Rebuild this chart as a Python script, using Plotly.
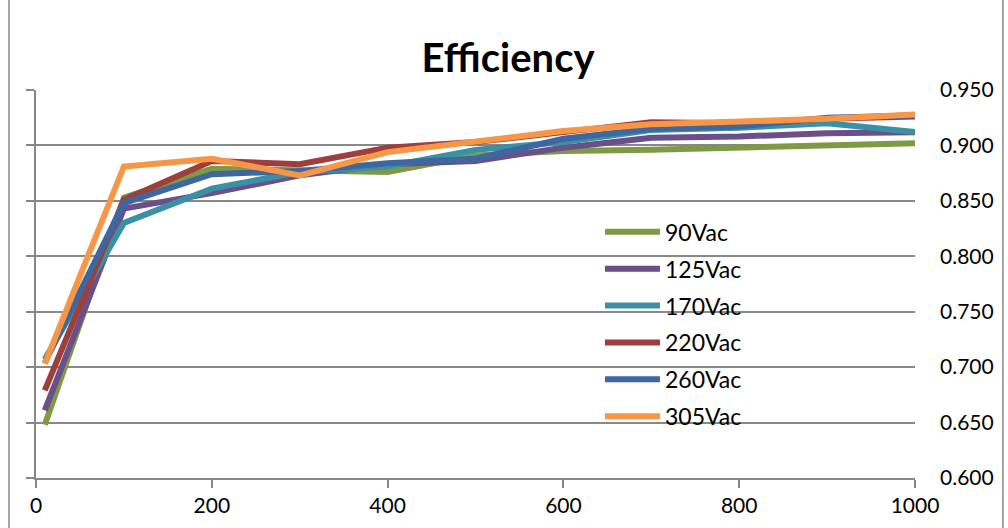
import plotly.graph_objects as go

x_load = [10, 100, 200, 300, 400, 500, 600, 700, 800, 900, 1000]
series_names = ["90Vac", "125Vac", "170Vac", "220Vac", "260Vac", "305Vac"]
eff_90 = [0.648, 0.853, 0.879, 0.877, 0.876, 0.891, 0.895, 0.896, 0.898, 0.900, 0.902]
eff_125 = [0.661, 0.843, 0.857, 0.873, 0.883, 0.886, 0.898, 0.907, 0.908, 0.911, 0.912]
eff_170 = [0.707, 0.830, 0.861, 0.876, 0.881, 0.896, 0.903, 0.914, 0.916, 0.920, 0.912]
eff_220 = [0.679, 0.851, 0.886, 0.883, 0.898, 0.903, 0.912, 0.921, 0.920, 0.924, 0.926]
eff_260 = [0.704, 0.848, 0.874, 0.877, 0.884, 0.888, 0.906, 0.915, 0.917, 0.925, 0.927]
eff_305 = [0.703, 0.881, 0.888, 0.873, 0.894, 0.904, 0.913, 0.919, 0.921, 0.924, 0.928]
series_values = [eff_90, eff_125, eff_170, eff_220, eff_260, eff_305]
colors = ["#7F9A45", "#6A4F89", "#3A91A6", "#9F3F3B", "#3D67A1", "#F79646"]
y_ticks = [0.60, 0.65, 0.70, 0.75, 0.80, 0.85, 0.90, 0.95]
x_ticks = [0, 200, 400, 600, 800, 1000]

FONT = "Lato, 'Open Sans', sans-serif"
GRID = "#888888"

fig = go.Figure()
for i, (name, vals, col) in enumerate(zip(series_names, series_values, colors)):
    fig.add_trace(go.Scatter(
        x=x_load, y=vals, name=name, mode="lines",
        line=dict(color=col, width=6),
        legendgroup=f"g{i}",
    ))
# invisible trace to anchor the right-hand label axis
fig.add_trace(go.Scatter(x=[x_load[0]], y=[y_ticks[0]], yaxis="y2", mode="lines",
                         showlegend=False, hoverinfo="skip", line=dict(width=0)))

fig.update_layout(
    width=1008, height=528,
    margin=dict(l=36, r=93, t=90, b=50),
    paper_bgcolor="white", plot_bgcolor="white",
    font=dict(family=FONT, size=20, color="#000000"),
    title=dict(text="<b>Efficiency</b>", x=0.504, xanchor="center", y=0.89, yanchor="middle",
               xref="container", yref="container",
               font=dict(family=FONT, size=40, color="#000000")),
    xaxis=dict(range=[0, 1000], tickvals=x_ticks, ticks="outside", ticklen=8,
               tickcolor=GRID, tickwidth=1.5, showline=True, linecolor=GRID, linewidth=1.5,
               showgrid=False, zeroline=False, tickfont=dict(size=21)),
    yaxis=dict(range=[0.6, 0.95], tickvals=y_ticks, side="left", showticklabels=False,
               ticks="outside", ticklen=8, tickcolor=GRID, tickwidth=1.5,
               showline=True, linecolor=GRID, linewidth=1.5,
               showgrid=True, gridcolor=GRID, gridwidth=1.5, zeroline=False),
    yaxis2=dict(range=[0.6, 0.95], tickvals=y_ticks, tickformat=".3f", overlaying="y",
                side="right", showgrid=False, showline=False, ticks="", zeroline=False,
                ticklabelstandoff=24, tickfont=dict(size=21)),
    legend=dict(x=0.6416, y=0.69, xanchor="left", yanchor="top", bgcolor="rgba(0,0,0,0)",
                itemwidth=55, tracegroupgap=4, font=dict(size=23)),
    showlegend=True,
    shapes=[
        dict(type="line", xref="paper", yref="paper", x0=-0.0307, x1=-0.0307, y0=-0.2, y1=1.3,
             line=dict(color=GRID, width=1.5)),
        dict(type="line", xref="paper", yref="paper", x0=1.1, x1=1.1, y0=-0.2, y1=1.3,
             line=dict(color=GRID, width=1.5)),
    ],
)

fig.write_html("out.html")
